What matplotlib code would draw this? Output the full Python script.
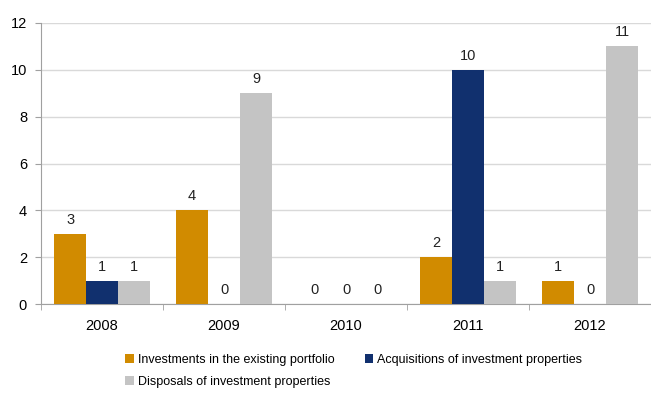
import numpy as np
import matplotlib.pyplot as plt

# ------------------------------------------------------------
# Data
# ------------------------------------------------------------

years = ["2008", "2009", "2010", "2011", "2012"]

investments = [3, 4, 0, 2, 1]
acquisitions = [1, 0, 0, 10, 0]
disposals = [1, 9, 0, 1, 11]

series_names = [
    "Investments in the existing portfolio",
    "Acquisitions of investment properties",
    "Disposals of investment properties",
]

colors = ["#D18B00", "#11306E", "#C4C4C4"]

plt.rcParams["font.family"] = ["Liberation Sans", "DejaVu Sans"]

# ------------------------------------------------------------
# Figure
# ------------------------------------------------------------

fig = plt.figure(figsize=(6.51, 3.94), dpi=100)
ax = fig.add_axes([0.063, 0.228, 0.937, 0.714])

x = np.arange(len(years))
width = 0.262
offsets = [-width, 0, width]

handles = []
for values, off, color, name in zip(
    [investments, acquisitions, disposals], offsets, colors, series_names
):
    bars = ax.bar(x + off, values, width, color=color, label=name, zorder=3)
    handles.append(bars)
    for xi, v in zip(x, values):
        ax.text(xi + off, v + 0.3, str(v), ha="center", va="bottom",
                fontsize=10.5, color="#222222", zorder=4)

ax.set_xlim(-0.5, len(years) - 0.5)
ax.set_ylim(0, 12)
ax.set_yticks(range(0, 13, 2))

ax.set_xticks(x)
ax.set_xticklabels(years)
ax.set_xticks(np.arange(-0.5, len(years), 1.0), minor=True)

ax.tick_params(axis="x", which="major", length=0, pad=11, labelsize=10.5)
ax.tick_params(axis="x", which="minor", length=4, direction="out",
               color="#A0A0A0")
ax.tick_params(axis="y", length=4, direction="out", color="#A0A0A0",
               labelsize=10.5, pad=6)

ax.grid(axis="y", color="#D9D9D9", linewidth=1.0, zorder=0)

for side in ["top", "right"]:
    ax.spines[side].set_visible(False)
for side in ["left", "bottom"]:
    ax.spines[side].set_color("#A0A0A0")

# ------------------------------------------------------------
# Legend (column-wise fill: investments/disposals, then acquisitions)
# ------------------------------------------------------------

fig.legend(
    handles=[handles[0], handles[2], handles[1]],
    loc="upper left",
    bbox_to_anchor=(0.183, 0.117),
    ncol=2,
    frameon=False,
    fontsize=9,
    handlelength=0.7,
    handleheight=0.7,
    handletextpad=0.3,
    columnspacing=2.4,
    labelspacing=0.8,
    borderpad=0,
)

fig.savefig("out.png", dpi=100)
